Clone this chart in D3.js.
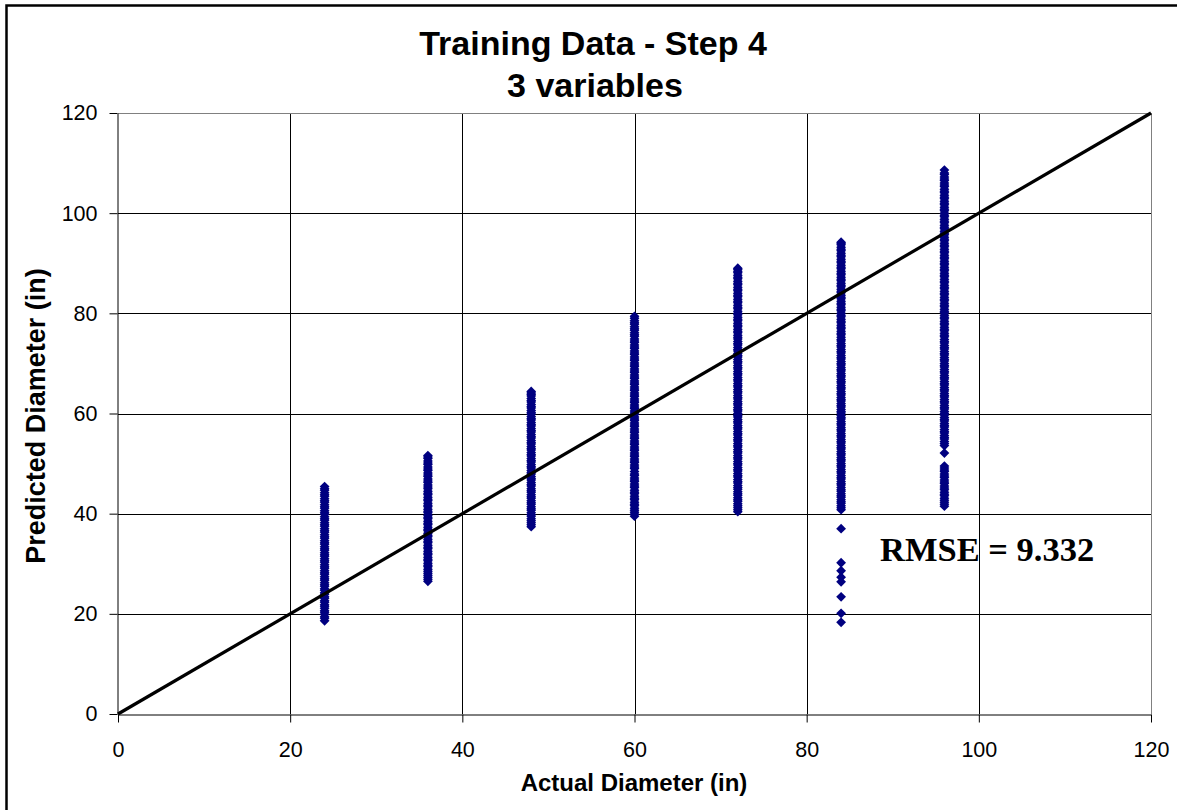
<!DOCTYPE html>
<html><head><meta charset="utf-8">
<script src="https://cdn.jsdelivr.net/npm/d3@7"></script>
<style>body{margin:0;background:#fff}svg{display:block}</style>
</head><body>
<script>
// ---- data ----
const title1 = "Training Data - Step 4";
const title2 = "3 variables";
const xTitle = "Actual Diameter (in)";
const yTitle = "Predicted Diameter (in)";
const annotation = "RMSE = 9.332";
const xTicks = [0, 20, 40, 60, 80, 100, 120];
const yTicks = [0, 20, 40, 60, 80, 100, 120];
const actualValues = [24, 36, 48, 60, 72, 84, 96];
const pred24 = [18.6,19.1,19.4,19.9,20.3,20.6,21.1,21.5,21.8,22.3,22.6,23.1,23.4,23.9,24.2,24.7,25,25.5,25.8,26.2,26.7,27,27.4,27.9,28.2,28.6,29.1,29.4,29.8,30.3,30.6,31,31.5,31.8,32.2,32.7,33,33.4,33.9,34.2,34.6,35.1,35.4,35.8,36.3,36.6,37,37.5,37.8,38.2,38.7,39,39.4,39.9,40.2,40.6,41.1,41.4,41.8,42.3,42.6,43,43.5,43.8,44.2,44.7,45,45.4];
const pred36 = [26.5,26.9,27.3,27.7,28.1,28.5,28.9,29.4,29.7,30.1,30.6,30.9,31.3,31.8,32.1,32.5,33,33.3,33.7,34.2,34.5,34.9,35.4,35.7,36.1,36.6,36.9,37.3,37.8,38.1,38.5,39,39.3,39.7,40.2,40.5,40.9,41.4,41.7,42.1,42.6,42.9,43.3,43.8,44.1,44.5,45,45.3,45.7,46.2,46.5,46.9,47.4,47.7,48.1,48.6,48.9,49.3,49.8,50.1,50.5,51,51.3,51.6];
const pred48 = [37.4,37.8,38.2,38.6,39,39.5,39.8,40.2,40.7,41,41.4,41.9,42.2,42.6,43.1,43.4,43.8,44.3,44.6,45,45.5,45.8,46.2,46.7,47,47.4,47.9,48.2,48.6,49.1,49.4,49.8,50.3,50.6,51,51.5,51.8,52.2,52.7,53,53.4,53.9,54.2,54.6,55.1,55.4,55.8,56.3,56.6,57,57.5,57.8,58.2,58.7,59,59.4,59.9,60.2,60.6,61.1,61.4,61.8,62.3,62.6,63,63.5,63.8,64.1,64.4];
const pred60 = [39.5,39.9,40.3,40.7,41.1,41.6,41.9,42.3,42.8,43.1,43.5,44,44.3,44.7,45.2,45.5,45.9,46.4,46.7,47.1,47.6,47.9,48.4,49,49.3,49.7,50.2,50.5,50.9,51.4,51.7,52.1,52.6,52.9,53.3,53.8,54.1,54.5,55,55.3,55.7,56.2,56.5,56.9,57.4,57.7,58.1,58.6,58.9,59.3,59.8,60.1,60.5,61,61.3,61.7,62.2,62.5,62.9,63.4,63.7,64.1,64.6,64.9,65.3,65.8,66.1,66.5,67,67.3,67.7,68.2,68.5,68.9,69.4,69.7,70.1,70.6,70.9,71.3,71.8,72.1,72.5,73,73.3,73.7,74.2,74.5,74.9,75.4,75.7,76.1,76.6,76.9,77.3,77.8,78.1,78.5,79,79.4];
const pred72 = [40.4,40.8,41.2,41.6,42,42.5,42.8,43.2,43.7,44,44.4,44.9,45.2,45.6,46.1,46.4,46.8,47.3,47.6,48,48.5,48.8,49.2,49.7,50,50.4,50.9,51.2,51.6,52.1,52.4,52.8,53.3,53.6,54,54.5,54.8,55.2,55.7,56,56.4,56.9,57.2,57.6,58.1,58.4,58.8,59.3,59.6,60,60.5,60.8,61.2,61.7,62,62.4,62.9,63.2,63.6,64.1,64.4,64.8,65.3,65.6,66,66.5,66.8,67.2,67.7,68,68.4,68.9,69.2,69.6,70.1,70.4,70.8,71.3,71.6,72,72.5,72.8,73.2,73.7,74,74.4,74.9,75.2,75.6,76.1,76.4,76.8,77.3,77.6,78,78.5,78.8,79.2,79.7,80,80.4,80.9,81.2,81.6,82.1,82.4,82.8,83.3,83.6,84,84.5,84.8,85.2,85.7,86,86.4,86.9,87.2,87.6,88.1,88.4,88.8,89];
const pred84 = [18.3,20.1,23.4,26.4,27.3,28.6,30.2,37,40.8,41.2,41.6,42.1,42.4,42.8,43.3,43.6,44,44.5,44.8,45.2,45.7,46,46.4,46.9,47.2,47.6,48.1,48.4,48.8,49.3,49.6,50,50.5,50.8,51.2,51.7,52,52.4,52.9,53.2,53.6,54.1,54.4,54.8,55.3,55.6,56,56.5,56.8,57.2,57.7,58,58.4,58.9,59.2,59.6,60.1,60.4,60.8,61.3,61.6,62,62.5,62.8,63.2,63.7,64,64.4,64.9,65.2,65.6,66.1,66.4,66.8,67.3,67.6,68,68.5,68.8,69.2,69.7,70,70.4,70.9,71.2,71.6,72.1,72.4,72.8,73.3,73.6,74,74.5,74.8,75.2,75.7,76,76.4,76.9,77.2,77.6,78.1,78.4,78.8,79.3,79.6,80,80.5,80.8,81.2,81.7,82,82.4,82.9,83.2,83.6,84.1,84.4,84.8,85.3,85.6,86,86.5,86.8,87.2,87.7,88,88.4,88.9,89.2,89.6,90.1,90.4,90.8,91.3,91.6,92,92.5,92.8,93.2,93.7,94,94.2];
const pred96 = [41.5,41.9,42.3,42.7,43.1,43.6,43.9,44.3,44.8,45.1,45.5,46,46.3,46.7,47.2,47.5,47.9,48.4,48.7,49.1,49.5,52.1,53.6,54,54.4,54.9,55.2,55.6,56.1,56.4,56.8,57.3,57.6,58,58.5,58.8,59.2,59.7,60,60.4,60.9,61.2,61.6,62.1,62.4,62.8,63.3,63.6,64,64.5,64.8,65.2,65.7,66,66.4,66.9,67.2,67.6,68.1,68.4,68.8,69.3,69.6,70,70.5,70.8,71.2,71.7,72,72.4,72.9,73.2,73.6,74.1,74.4,74.8,75.3,75.6,76,76.5,76.8,77.2,77.7,78,78.4,78.9,79.2,79.6,80.1,80.4,80.8,81.3,81.6,82,82.5,82.8,83.2,83.7,84,84.4,84.9,85.2,85.6,86.1,86.4,86.8,87.3,87.6,88,88.5,88.8,89.2,89.7,90,90.4,90.9,91.2,91.6,92.1,92.4,92.8,93.3,93.6,94,94.5,94.8,95.2,95.7,96,96.4,96.9,97.2,97.6,98.1,98.4,98.8,99.3,99.6,100,100.5,100.8,101.2,101.7,102,102.4,102.9,103.2,103.6,104.1,104.4,104.8,105.3,105.6,106,106.5,106.8,107.2,107.7,108,108.6];
const predicted = [pred24, pred36, pred48, pred60, pred72, pred84, pred96];
const diagonal = [[0, 0], [120, 120]];

// ---- layout ----
const W = 1177, H = 810;
const plot = {left: 118, right: 1151, top: 113, bottom: 714};
const svg = d3.select("body").append("svg").attr("width", W).attr("height", H);

svg.append("rect").attr("x", 6.5).attr("y", 5.5).attr("width", W + 20).attr("height", H + 20)
  .attr("fill", "#fff").attr("stroke", "#000").attr("stroke-width", 2.5);

const x = d3.scaleLinear().domain([0, 120]).range([plot.left, plot.right]);
const y = d3.scaleLinear().domain([0, 120]).range([plot.bottom, plot.top]);

// gridlines
const g = svg.append("g");
g.selectAll(".hg").data(yTicks.filter(v => v > 0 && v < 120)).join("line")
  .attr("x1", plot.left).attr("x2", plot.right)
  .attr("y1", d => Math.round(y(d)) + 0.5).attr("y2", d => Math.round(y(d)) + 0.5)
  .attr("stroke", "#000").attr("stroke-width", 1);
g.selectAll(".vg").data(xTicks.filter(v => v > 0 && v < 120)).join("line")
  .attr("y1", plot.top).attr("y2", plot.bottom)
  .attr("x1", d => Math.round(x(d)) + 0.5).attr("x2", d => Math.round(x(d)) + 0.5)
  .attr("stroke", "#000").attr("stroke-width", 1);
g.append("line").attr("x1", plot.left).attr("x2", plot.right).attr("y1", plot.top + 0.5).attr("y2", plot.top + 0.5).attr("stroke", "#808080");
g.append("line").attr("x1", plot.right + 0.5).attr("x2", plot.right + 0.5).attr("y1", plot.top).attr("y2", plot.bottom).attr("stroke", "#808080");

// points
const pts = [];
actualValues.forEach((a, i) => predicted[i].forEach(p => pts.push([a, p])));
svg.append("g").selectAll("path").data(pts).join("path")
  .attr("d", d3.symbol().type(d3.symbolSquare).size(48))
  .attr("transform", d => `translate(${x(d[0])},${y(d[1])}) rotate(45)`)
  .attr("fill", "#000080");

// diagonal line
svg.append("path").datum(diagonal)
  .attr("d", d3.line().x(d => x(d[0])).y(d => y(d[1])))
  .attr("stroke", "#000").attr("stroke-width", 3.2).attr("fill", "none");

// axes
const xAxis = d3.axisBottom(x).tickValues(xTicks).tickSize(8).tickSizeOuter(0).tickPadding(19);
const yAxis = d3.axisLeft(y).tickValues(yTicks).tickSize(8).tickSizeOuter(0).tickPadding(12);
const xa = svg.append("g").attr("transform", `translate(0,${plot.bottom + 0.5})`).call(xAxis);
const ya = svg.append("g").attr("transform", `translate(${plot.left - 0.5},0)`).call(yAxis);
[xa, ya].forEach(a => {
  a.selectAll("text").attr("font-family", "Liberation Sans, Arial, sans-serif").attr("font-size", 21.5).attr("fill", "#000");
  a.selectAll("line").attr("stroke", "#000");
  a.select(".domain").attr("stroke", "#000");
});

// titles
const tf = "Liberation Sans, Arial, sans-serif";
svg.append("text").attr("x", 593).attr("y", 55).attr("text-anchor", "middle")
  .attr("font-family", tf).attr("font-weight", "bold").attr("font-size", 34).text(title1);
svg.append("text").attr("x", 595).attr("y", 97).attr("text-anchor", "middle")
  .attr("font-family", tf).attr("font-weight", "bold").attr("font-size", 34).text(title2);
svg.append("text").attr("x", 634).attr("y", 791).attr("text-anchor", "middle")
  .attr("font-family", tf).attr("font-weight", "bold").attr("font-size", 24).text(xTitle);
svg.append("text").attr("transform", "translate(45,416) rotate(-90)").attr("text-anchor", "middle")
  .attr("font-family", tf).attr("font-weight", "bold").attr("font-size", 27).text(yTitle);
svg.append("text").attr("x", 880).attr("y", 561).attr("font-family", "Liberation Serif, Times New Roman, serif")
  .attr("font-weight", "bold").attr("font-size", 34.5).text(annotation);
</script>
</body></html>
